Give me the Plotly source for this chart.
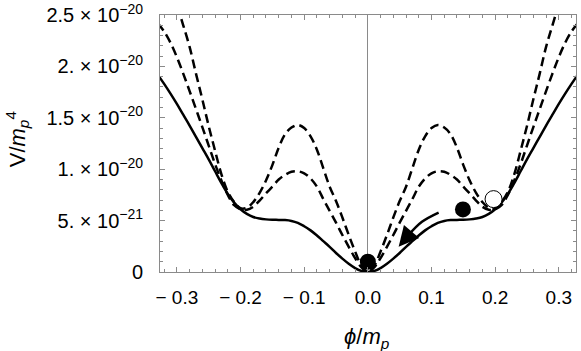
import plotly.graph_objects as go

# field values phi/m_p
phi = [-0.33, -0.32, -0.31, -0.30, -0.29, -0.28, -0.27, -0.26, -0.25, -0.24,
       -0.23, -0.22, -0.21, -0.20, -0.19, -0.18, -0.17, -0.16, -0.15, -0.14,
       -0.13, -0.12, -0.11, -0.10, -0.09, -0.08, -0.07, -0.06, -0.05, -0.04,
       -0.03, -0.02, -0.01, 0.00, 0.01, 0.02, 0.03, 0.04, 0.05, 0.06,
       0.07, 0.08, 0.09, 0.10, 0.11, 0.12, 0.13, 0.14, 0.15, 0.16,
       0.17, 0.18, 0.19, 0.20, 0.21, 0.22, 0.23, 0.24, 0.25, 0.26,
       0.27, 0.28, 0.29, 0.30, 0.31, 0.32, 0.33]

# potentials in units of 1e-21 m_p^4
v_solid = [19.2, 18.3, 17.35, 16.35, 15.3, 14.25, 13.15, 12.05, 10.95, 9.8,
           8.65, 7.6, 6.75, 6.1, 5.65, 5.35, 5.2, 5.12, 5.08, 5.07,
           5.05, 4.97, 4.78, 4.45, 4.05, 3.55, 3.0, 2.45, 1.85, 1.3,
           0.8, 0.38, 0.1, 0.0, 0.1, 0.38, 0.8, 1.3, 1.85, 2.45,
           3.0, 3.55, 4.05, 4.45, 4.78, 4.97, 5.05, 5.07, 5.08, 5.12,
           5.2, 5.35, 5.65, 6.1, 6.75, 7.6, 8.65, 9.8, 10.95, 12.05,
           13.15, 14.25, 15.3, 16.35, 17.35, 18.3, 19.2]

v_dash_high = [31.0, 29.5, 27.8, 26.0, 24.0, 21.9, 19.3, 16.8, 14.2, 11.8,
               9.5, 7.8, 6.8, 6.2, 6.25, 6.8, 7.7, 8.9, 10.4, 12.1,
               13.4, 14.05, 14.3, 14.0, 13.2, 11.9, 10.1, 8.3, 6.9, 5.3,
               3.6, 2.0, 0.6, 0.0, 0.6, 2.0, 3.6, 5.3, 6.9, 8.3,
               10.1, 11.9, 13.2, 14.0, 14.3, 14.05, 13.4, 12.1, 10.4, 8.9,
               7.7, 6.8, 6.25, 6.2, 6.8, 7.8, 9.5, 11.8, 14.2, 16.8,
               19.3, 21.9, 24.0, 26.0, 27.8, 29.5, 31.0]

v_dash_low = [24.2, 23.4, 22.3, 20.9, 19.3, 17.6, 15.85, 14.1, 12.3, 10.5,
              8.9, 7.5, 6.5, 6.1, 6.05, 6.35, 6.95, 7.65, 8.3, 9.0,
              9.45, 9.75, 9.8, 9.6, 9.1, 8.3, 7.1, 5.95, 4.8, 3.6,
              2.45, 1.35, 0.45, 0.0, 0.45, 1.35, 2.45, 3.6, 4.8, 5.95,
              7.1, 8.3, 9.1, 9.6, 9.8, 9.75, 9.45, 9.0, 8.3, 7.65,
              6.95, 6.35, 6.05, 6.1, 6.5, 7.5, 8.9, 10.5, 12.3, 14.1,
              15.85, 17.6, 19.3, 20.9, 22.3, 23.4, 24.2]

# balls and the rolling arrow
ball_phi = [0.0, 0.1494]
ball_v = [1.0, 6.09]
open_ball_phi = [0.1975]
open_ball_v = [7.09]
arrow_phi = [0.1112, 0.085, 0.064]
arrow_v = [5.78, 4.88, 3.6]
arrow_tip = (0.0484, 2.46)

ytick_vals = [0, 5, 10, 15, 20, 25]
ytick_text = ["0", "5. × 10<sup>−21</sup>", "1. × 10<sup>−20</sup>",
              "1.5 × 10<sup>−20</sup>", "2. × 10<sup>−20</sup>",
              "2.5 × 10<sup>−20</sup>"]
xtick_vals = [-0.3, -0.2, -0.1, 0.0, 0.1, 0.2, 0.3]
xtick_text = ["− 0.3", "− 0.2", "− 0.1", "0.0", "0.1", "0.2", "0.3"]

FONT = "Liberation Sans, Arial, sans-serif"
FRAME = "#8a8a8a"

fig = go.Figure()

fig.add_trace(go.Scatter(x=phi, y=v_dash_high, mode="lines",
                         line=dict(color="black", width=2.5, dash="9px,5px", shape="spline")))
fig.add_trace(go.Scatter(x=phi, y=v_dash_low, mode="lines",
                         line=dict(color="black", width=2.5, dash="9px,5px", shape="spline")))
fig.add_trace(go.Scatter(x=phi, y=v_solid, mode="lines",
                         line=dict(color="black", width=2.5, shape="spline")))
fig.add_trace(go.Scatter(x=arrow_phi, y=arrow_v, mode="lines",
                         line=dict(color="black", width=2.5, shape="spline")))
fig.add_trace(go.Scatter(x=ball_phi, y=ball_v, mode="markers",
                         marker=dict(color="black", size=16)))
fig.add_trace(go.Scatter(x=open_ball_phi, y=open_ball_v, mode="markers",
                         marker=dict(color="white", size=17,
                                     line=dict(color="black", width=1))))

# arrowhead at the end of the rolling path
fig.add_annotation(x=arrow_tip[0], y=arrow_tip[1], ax=arrow_phi[-1], ay=arrow_v[-1],
                   xref="x", yref="y", axref="x", ayref="y", text="",
                   showarrow=True, arrowhead=2, arrowsize=1.6, arrowwidth=2.5,
                   arrowcolor="black", standoff=0, startstandoff=0)

# axis labels
fig.add_annotation(x=-0.344, y=0.52, xref="paper", yref="paper", showarrow=False,
                   xanchor="center", yanchor="middle",
                   text="V/<i>m</i><sub><i>p</i></sub><sup>4</sup>", textangle=-90,
                   font=dict(family=FONT, size=22, color="black"))
fig.add_annotation(x=0.4976, y=-0.255, xref="paper", yref="paper", showarrow=False,
                   xanchor="center", yanchor="middle",
                   text="<i>ϕ</i>/<i>m</i><sub><i>p</i></sub>",
                   font=dict(family=FONT, size=22, color="black"))

axis_common = dict(showgrid=False, showline=True, linecolor=FRAME, linewidth=1,
                   mirror="allticks", ticks="inside", ticklen=5, tickcolor=FRAME,
                   tickwidth=1, automargin=False)

fig.update_xaxes(range=[-0.3265, 0.327], tickmode="array", tickvals=xtick_vals,
                 ticktext=xtick_text, zeroline=True, zerolinecolor=FRAME,
                 zerolinewidth=1, ticklabelstandoff=8,
                 tickfont=dict(family=FONT, size=19, color="black"),
                 minor=dict(dtick=0.02, tick0=0, ticks="inside", ticklen=3,
                            tickcolor=FRAME, showgrid=False),
                 **axis_common)
fig.update_yaxes(range=[0, 25], tickmode="array", tickvals=ytick_vals,
                 ticktext=ytick_text, zeroline=False, ticklabelstandoff=12,
                 tickfont=dict(family=FONT, size=20, color="black"),
                 minor=dict(dtick=1, tick0=0, ticks="inside", ticklen=3,
                            tickcolor=FRAME, showgrid=False),
                 **axis_common)

fig.update_layout(width=581, height=351, showlegend=False,
                  margin=dict(l=160, r=5, t=15, b=79, autoexpand=False),
                  plot_bgcolor="white", paper_bgcolor="white",
                  font=dict(family=FONT, color="black"))

# drop the default 8px page margin so the figure sits at the window corner
fig.write_html("out.html", config={"displayModeBar": False},
               post_script="document.body.style.margin = '0';")
